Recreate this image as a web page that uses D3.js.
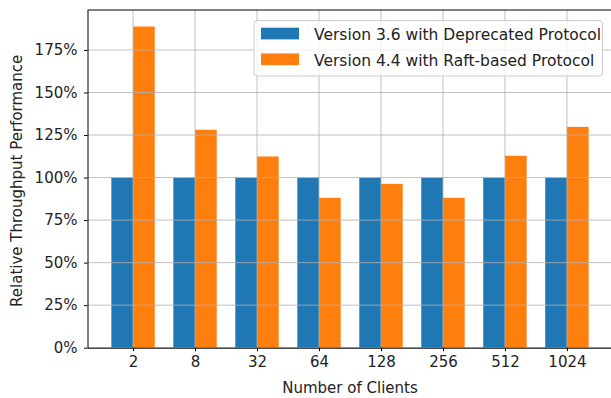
<!DOCTYPE html>
<meta charset="utf-8">
<script src="https://d3js.org/d3.v7.min.js"></script>
<style>
  body { margin: 0; background: #fff; }
  text { font-family: "DejaVu Sans", sans-serif; fill: #222; }
</style>
<div id="my_dataviz"></div>
<script>

// data
var clients = ["2", "8", "32", "64", "128", "256", "512", "1024"];
var seriesNames = ["Version 3.6 with Deprecated Protocol", "Version 4.4 with Raft-based Protocol"];
var v36 = [100, 100, 100, 100, 100, 100, 100, 100];
var v44 = [188.8, 128.1, 112.4, 88.1, 96.3, 88.1, 112.8, 129.8];
var yTicks = [0, 25, 50, 75, 100, 125, 150, 175];
var colors = ["#1f77b4", "#ff7f0e"];

var W = 611, H = 398;
var margin = {top: 10, left: 87.5},
    width = 525,          // plot runs a little past the right edge (cropped figure)
    height = 337.7;

var svg = d3.select("#my_dataviz")
  .append("svg")
    .attr("width", W)
    .attr("height", H)
  .append("g")
    .attr("transform", "translate(" + margin.left + "," + margin.top + ")");

var barW = 0.35;
// linear x in "group index" units, like matplotlib
var x = d3.scaleLinear()
  .domain([-0.735, clients.length - 1 + 0.735])
  .range([0, width]);

var y = d3.scaleLinear()
  .domain([0, 198.5])
  .range([height, 0]);

var series = [v36, v44];

// bars
series.forEach(function(vals, s) {
  svg.append("g")
    .selectAll("rect")
    .data(vals)
    .enter()
    .append("rect")
      .attr("x", function(d, i) { return x(i - barW + s * barW); })
      .attr("width", x(barW) - x(0))
      .attr("y", function(d) { return y(d); })
      .attr("height", function(d) { return height - y(d); })
      .attr("fill", colors[s]);
});

// grid on top of bars
var grid = svg.append("g").attr("stroke", "#b0b0b0").attr("stroke-width", 0.8);
grid.selectAll(".gy").data(yTicks).enter().append("line")
  .attr("x1", 0).attr("x2", width)
  .attr("y1", function(d) { return y(d); })
  .attr("y2", function(d) { return y(d); });
grid.selectAll(".gx").data(clients).enter().append("line")
  .attr("x1", function(d, i) { return x(i); })
  .attr("x2", function(d, i) { return x(i); })
  .attr("y1", 0).attr("y2", height);

// axes
var xAxis = svg.append("g")
  .attr("transform", "translate(0," + height + ")")
  .call(d3.axisBottom(x)
    .tickValues(d3.range(clients.length))
    .tickFormat(function(i) { return clients[i]; })
    .tickSize(3.5).tickPadding(5).tickSizeOuter(0));

var yAxis = svg.append("g")
  .call(d3.axisLeft(y)
    .tickValues(yTicks)
    .tickFormat(function(d) { return d + "%"; })
    .tickSize(3.5).tickPadding(6.5).tickSizeOuter(0));

[xAxis, yAxis].forEach(function(a) {
  a.select(".domain").attr("stroke", "#000").attr("stroke-width", 1);
  a.selectAll(".tick line").attr("stroke", "#000").attr("stroke-width", 1);
  a.selectAll("text")
    .style("font-family", "'DejaVu Sans', sans-serif")
    .style("font-size", "15px")
    .attr("fill", "#222");
});

// top spine
svg.append("line")
  .attr("x1", 0).attr("x2", width)
  .attr("y1", 0).attr("y2", 0)
  .attr("stroke", "#000").attr("stroke-width", 1);

// axis labels
svg.append("text")
  .attr("text-anchor", "middle")
  .attr("x", width / 2)
  .attr("y", height + 45)
  .style("font-size", "15px")
  .text("Number of Clients");

svg.append("text")
  .attr("text-anchor", "middle")
  .attr("transform", "translate(" + (-66) + "," + (height / 2 + 2) + ") rotate(-90)")
  .style("font-size", "15px")
  .text("Relative Throughput Performance");

// legend
var lg = svg.append("g").attr("transform", "translate(" + (254 - margin.left) + "," + (20.7 - margin.top) + ")");
lg.append("rect")
  .attr("width", 348.5).attr("height", 55.3)
  .attr("rx", 3)
  .attr("fill", "#fff").attr("fill-opacity", 0.8)
  .attr("stroke", "#cccccc").attr("stroke-width", 1);

seriesNames.forEach(function(name, s) {
  lg.append("rect")
    .attr("x", 7).attr("y", 7 + s * 25.7)
    .attr("width", 38).attr("height", 11.7)
    .attr("fill", colors[s]);
  lg.append("text")
    .attr("x", 60).attr("y", 19.2 + s * 25.7)
    .style("font-size", "15.5px")
    .text(name);
});

</script>
